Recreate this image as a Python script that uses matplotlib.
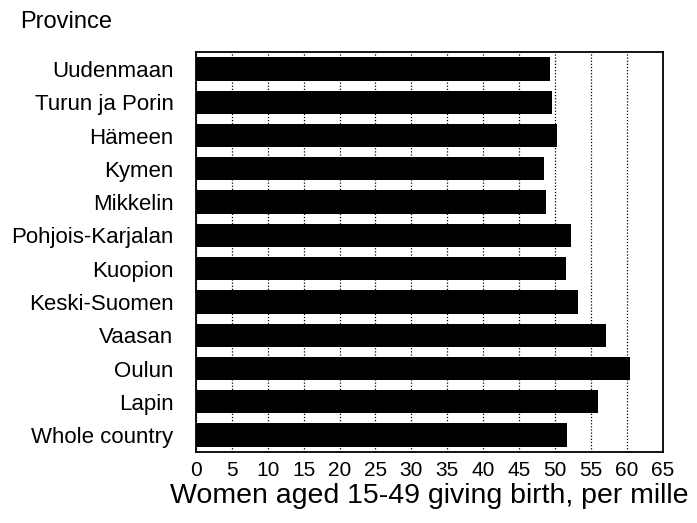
import numpy as np
import matplotlib.pyplot as plt

# datos
provinces = ['Uudenmaan', 'Turun ja Porin', 'Hämeen', 'Kymen', 'Mikkelin',
             'Pohjois-Karjalan', 'Kuopion', 'Keski-Suomen', 'Vaasan', 'Oulun',
             'Lapin', 'Whole country']
births = [49.3, 49.5, 50.3, 48.5, 48.7, 52.2, 51.5, 53.2, 57.1, 60.4, 55.9, 51.6]
xticks = np.arange(0, 70, 5)

plt.rcParams['font.family'] = ['Liberation Sans', 'DejaVu Sans']

fig = plt.figure(figsize=(6.97, 5.23), dpi=100)
ax = fig.add_axes([0.2808, 0.1363, 0.6705, 0.7637])

y = np.arange(len(provinces))
ax.barh(y, births, height=0.7, color='black', zorder=2)

ax.set_xlim(0, 65)
ax.set_ylim(len(provinces) - 0.5, -0.5)
ax.set_xticks(xticks)
ax.set_xticklabels([str(t) for t in xticks], fontsize=15)
ax.set_yticks(y)
ax.set_yticklabels(provinces, fontsize=16)
ax.tick_params(axis='both', length=0)
ax.tick_params(axis='x', pad=7)
ax.tick_params(axis='y', pad=16)

ax.xaxis.grid(True, linestyle=(0, (1, 1.5)), color='black', linewidth=0.9, zorder=1)
ax.set_axisbelow(True)
for s in ax.spines.values():
    s.set_linewidth(1.3)

ax.set_xlabel('Women aged 15-49 giving birth, per mille', fontsize=20.5, labelpad=2)
fig.text(20 / 697, 1 - 22 / 523, 'Province', fontsize=17, va='center', ha='left')

fig.savefig('out.png', dpi=100)
